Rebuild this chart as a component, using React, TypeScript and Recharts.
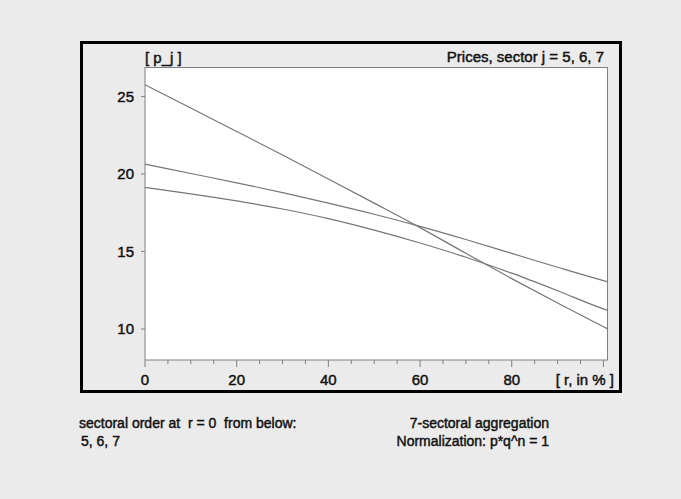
import { LineChart, Line, XAxis, YAxis } from 'recharts';

// interest rate r (in %) and price of sectors 5, 6, 7
const rValues = [0, 10, 20, 30, 40, 50, 60, 70, 80, 90, 100, 101];
const sector5 = [19.14, 18.72, 18.26, 17.74, 17.12, 16.38, 15.55, 14.63, 13.6, 12.47, 11.3, 11.2];
const sector6 = [20.63, 20.03, 19.43, 18.8, 18.12, 17.4, 16.62, 15.77, 14.88, 13.98, 13.12, 13.04];
const sector7 = [25.76, 24.25, 22.74, 21.22, 19.68, 18.12, 16.54, 14.88, 13.25, 11.68, 10.15, 10.0];

const xTicks = [0, 5, 10, 15, 20, 25, 30, 35, 40, 45, 50, 55, 60, 65, 70, 75, 80, 85, 90, 95, 100];
const yTicks = [10, 15, 20, 25];

const data = rValues.map((r, i) => ({ r, s5: sector5[i], s6: sector6[i], s7: sector7[i] }));

const FONT = '"Liberation Sans", Arial, sans-serif';
const AXIS = '#808080';
const LINE = '#767676';

function XTick(props: any) {
  const { x, y, payload } = props;
  const v = payload.value as number;
  const major = v % 20 === 0;
  return (
    <g>
      <line x1={x} x2={x} y1={y} y2={y + (major ? 7 : 4)} stroke={AXIS} />
      {major && v < 100 && (
        <text
          x={x} y={y + 25} textAnchor="middle" fontSize={15} fill="#111"
          stroke="#111" strokeWidth={0.45} fontFamily={FONT}
        >
          {v}
        </text>
      )}
    </g>
  );
}

const txt: React.CSSProperties = {
  position: 'absolute',
  fontFamily: FONT,
  fontSize: 15,
  color: '#111',
  whiteSpace: 'pre',
  lineHeight: '16px',
  WebkitTextStroke: '0.45px #111',
};

export default function App() {
  return (
    <div style={{ position: 'fixed', left: 0, top: 0, width: 681, height: 499, background: '#ebebeb' }}>
      <div
        style={{
          position: 'absolute', left: 80, top: 41, width: 542, height: 352,
          border: '3px solid #000', boxSizing: 'border-box',
        }}
      />
      <div
        style={{
          position: 'absolute', left: 145, top: 67, width: 463, height: 293, background: '#fff',
          borderTop: `1px solid ${AXIS}`, borderRight: `1px solid ${AXIS}`, boxSizing: 'border-box',
        }}
      />
      <div style={{ position: 'absolute', left: 0, top: 0 }}>
        <LineChart width={681} height={499} data={data} margin={{ top: 67, right: 73, bottom: 109, left: 85 }}>
          <XAxis
            dataKey="r"
            type="number"
            domain={[0, 101]}
            ticks={xTicks}
            interval={0}
            height={30}
            tickLine={false}
            tickSize={0}
            tickMargin={0}
            axisLine={{ stroke: AXIS }}
            tick={<XTick />}
          />
          <YAxis
            type="number"
            domain={[8, 26.9]}
            ticks={yTicks}
            width={60}
            tickSize={4}
            tickMargin={7}
            axisLine={{ stroke: AXIS }}
            tickLine={{ stroke: AXIS }}
            tick={{ fontSize: 15, fill: '#111', stroke: '#111', strokeWidth: 0.45, fontFamily: FONT }}
          />
          <Line dataKey="s5" type="monotone" stroke={LINE} strokeWidth={1.2} dot={false} isAnimationActive={false} />
          <Line dataKey="s6" type="monotone" stroke={LINE} strokeWidth={1.2} dot={false} isAnimationActive={false} />
          <Line dataKey="s7" type="monotone" stroke={LINE} strokeWidth={1.2} dot={false} isAnimationActive={false} />
        </LineChart>
      </div>
      <div style={{ ...txt, left: 145, top: 50 }}>[ p_j ]</div>
      <div style={{ ...txt, right: 681 - 604, top: 49 }}>Prices, sector j = 5, 6, 7</div>
      <div style={{ ...txt, right: 681 - 614, top: 372 }}>[ r, in % ]</div>
      <div style={{ ...txt, fontSize: 14, left: 79, top: 415 }}>sectoral order at  r = 0  from below:</div>
      <div style={{ ...txt, fontSize: 14, left: 81, top: 433 }}>5, 6, 7</div>
      <div style={{ ...txt, fontSize: 14, right: 681 - 549, top: 415 }}>7-sectoral aggregation</div>
      <div style={{ ...txt, fontSize: 14, right: 681 - 549, top: 433 }}>Normalization: p*q^n = 1</div>
    </div>
  );
}
